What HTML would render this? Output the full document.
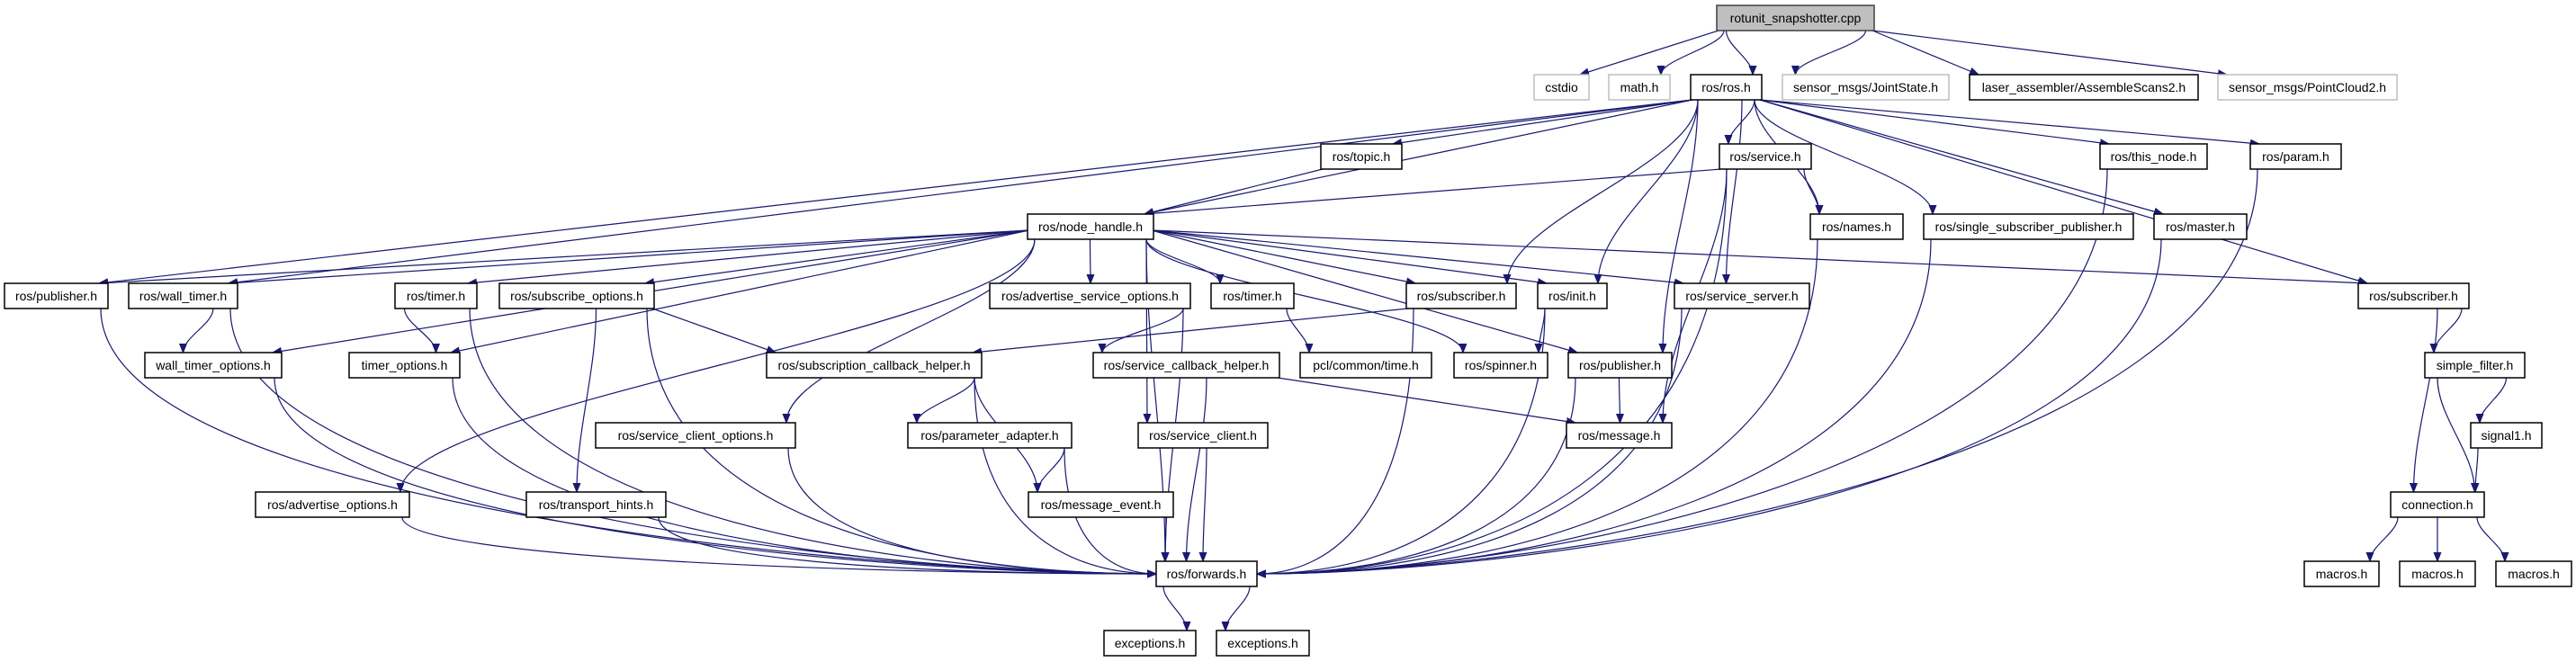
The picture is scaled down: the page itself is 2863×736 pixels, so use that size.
<!DOCTYPE html>
<html><head><meta charset="utf-8"><style>
html,body{margin:0;padding:0;background:#fff;}
svg{display:block;}
text{font-family:"Liberation Sans","DejaVu Sans",sans-serif;font-size:14px;fill:#000;}
</style></head><body>
<svg id="g" width="2863" height="736" viewBox="0 0 2863 736" xmlns="http://www.w3.org/2000/svg">
<defs><marker id="a" viewBox="0 0 10 10" refX="10" refY="5" markerWidth="10" markerHeight="10" markerUnits="userSpaceOnUse" orient="auto"><path d="M0,1 L10,5 L0,9 z" fill="#191970" stroke="#191970"/></marker></defs>
<g id="edges" fill="none" stroke="#191970" stroke-width="1.2"></g>
<g id="nodes">
<rect x="1908" y="6" width="175" height="28" fill="#bfbfbf" stroke="#404040" stroke-width="1.5"/><text x="1995.5" y="25" text-anchor="middle">rotunit_snapshotter.cpp</text>
<rect x="1705" y="83" width="61" height="28" fill="#fff" stroke="#bfbfbf" stroke-width="1.5"/><text x="1735.5" y="102" text-anchor="middle">cstdio</text>
<rect x="1788" y="83" width="68" height="28" fill="#fff" stroke="#bfbfbf" stroke-width="1.5"/><text x="1822" y="102" text-anchor="middle">math.h</text>
<rect x="1879" y="83" width="79" height="28" fill="#fff" stroke="#000" stroke-width="1.5"/><text x="1918.5" y="102" text-anchor="middle">ros/ros.h</text>
<rect x="1981" y="83" width="185" height="28" fill="#fff" stroke="#bfbfbf" stroke-width="1.5"/><text x="2073.5" y="102" text-anchor="middle">sensor_msgs/JointState.h</text>
<rect x="2189" y="83" width="254" height="28" fill="#fff" stroke="#000" stroke-width="1.5"/><text x="2316" y="102" text-anchor="middle">laser_assembler/AssembleScans2.h</text>
<rect x="2465" y="83" width="199" height="28" fill="#fff" stroke="#bfbfbf" stroke-width="1.5"/><text x="2564.5" y="102" text-anchor="middle">sensor_msgs/PointCloud2.h</text>
<rect x="1468" y="160" width="90" height="28" fill="#fff" stroke="#000" stroke-width="1.5"/><text x="1513" y="179" text-anchor="middle">ros/topic.h</text>
<rect x="1911" y="160" width="102" height="28" fill="#fff" stroke="#000" stroke-width="1.5"/><text x="1962" y="179" text-anchor="middle">ros/service.h</text>
<rect x="2334" y="160" width="119" height="28" fill="#fff" stroke="#000" stroke-width="1.5"/><text x="2393.5" y="179" text-anchor="middle">ros/this_node.h</text>
<rect x="2501" y="160" width="101" height="28" fill="#fff" stroke="#000" stroke-width="1.5"/><text x="2551.5" y="179" text-anchor="middle">ros/param.h</text>
<rect x="1142" y="238" width="140" height="28" fill="#fff" stroke="#000" stroke-width="1.5"/><text x="1212" y="257" text-anchor="middle">ros/node_handle.h</text>
<rect x="2012" y="238" width="103" height="28" fill="#fff" stroke="#000" stroke-width="1.5"/><text x="2063.5" y="257" text-anchor="middle">ros/names.h</text>
<rect x="2138" y="238" width="233" height="28" fill="#fff" stroke="#000" stroke-width="1.5"/><text x="2254.5" y="257" text-anchor="middle">ros/single_subscriber_publisher.h</text>
<rect x="2394" y="238" width="103" height="28" fill="#fff" stroke="#000" stroke-width="1.5"/><text x="2445.5" y="257" text-anchor="middle">ros/master.h</text>
<rect x="5" y="315" width="115" height="28" fill="#fff" stroke="#000" stroke-width="1.5"/><text x="62.5" y="334" text-anchor="middle">ros/publisher.h</text>
<rect x="143" y="315" width="121" height="28" fill="#fff" stroke="#000" stroke-width="1.5"/><text x="203.5" y="334" text-anchor="middle">ros/wall_timer.h</text>
<rect x="439" y="315" width="91" height="28" fill="#fff" stroke="#000" stroke-width="1.5"/><text x="484.5" y="334" text-anchor="middle">ros/timer.h</text>
<rect x="555" y="315" width="172" height="28" fill="#fff" stroke="#000" stroke-width="1.5"/><text x="641" y="334" text-anchor="middle">ros/subscribe_options.h</text>
<rect x="1100" y="315" width="223" height="28" fill="#fff" stroke="#000" stroke-width="1.5"/><text x="1211.5" y="334" text-anchor="middle">ros/advertise_service_options.h</text>
<rect x="1346" y="315" width="92" height="28" fill="#fff" stroke="#000" stroke-width="1.5"/><text x="1392" y="334" text-anchor="middle">ros/timer.h</text>
<rect x="1563" y="315" width="122" height="28" fill="#fff" stroke="#000" stroke-width="1.5"/><text x="1624" y="334" text-anchor="middle">ros/subscriber.h</text>
<rect x="1709" y="315" width="77" height="28" fill="#fff" stroke="#000" stroke-width="1.5"/><text x="1747.5" y="334" text-anchor="middle">ros/init.h</text>
<rect x="1861" y="315" width="150" height="28" fill="#fff" stroke="#000" stroke-width="1.5"/><text x="1936" y="334" text-anchor="middle">ros/service_server.h</text>
<rect x="2621" y="315" width="123" height="28" fill="#fff" stroke="#000" stroke-width="1.5"/><text x="2682.5" y="334" text-anchor="middle">ros/subscriber.h</text>
<rect x="161" y="392" width="152" height="28" fill="#fff" stroke="#000" stroke-width="1.5"/><text x="237" y="411" text-anchor="middle">wall_timer_options.h</text>
<rect x="388" y="392" width="123" height="28" fill="#fff" stroke="#000" stroke-width="1.5"/><text x="449.5" y="411" text-anchor="middle">timer_options.h</text>
<rect x="852" y="392" width="239" height="28" fill="#fff" stroke="#000" stroke-width="1.5"/><text x="971.5" y="411" text-anchor="middle">ros/subscription_callback_helper.h</text>
<rect x="1215" y="392" width="207" height="28" fill="#fff" stroke="#000" stroke-width="1.5"/><text x="1318.5" y="411" text-anchor="middle">ros/service_callback_helper.h</text>
<rect x="1445" y="392" width="146" height="28" fill="#fff" stroke="#000" stroke-width="1.5"/><text x="1518" y="411" text-anchor="middle">pcl/common/time.h</text>
<rect x="1616" y="392" width="104" height="28" fill="#fff" stroke="#000" stroke-width="1.5"/><text x="1668" y="411" text-anchor="middle">ros/spinner.h</text>
<rect x="1743" y="392" width="115" height="28" fill="#fff" stroke="#000" stroke-width="1.5"/><text x="1800.5" y="411" text-anchor="middle">ros/publisher.h</text>
<rect x="2695" y="392" width="111" height="28" fill="#fff" stroke="#000" stroke-width="1.5"/><text x="2750.5" y="411" text-anchor="middle">simple_filter.h</text>
<rect x="662" y="470" width="222" height="28" fill="#fff" stroke="#000" stroke-width="1.5"/><text x="773" y="489" text-anchor="middle">ros/service_client_options.h</text>
<rect x="1009" y="470" width="182" height="28" fill="#fff" stroke="#000" stroke-width="1.5"/><text x="1100" y="489" text-anchor="middle">ros/parameter_adapter.h</text>
<rect x="1265" y="470" width="144" height="28" fill="#fff" stroke="#000" stroke-width="1.5"/><text x="1337" y="489" text-anchor="middle">ros/service_client.h</text>
<rect x="1741" y="470" width="117" height="28" fill="#fff" stroke="#000" stroke-width="1.5"/><text x="1799.5" y="489" text-anchor="middle">ros/message.h</text>
<rect x="2746" y="470" width="79" height="28" fill="#fff" stroke="#000" stroke-width="1.5"/><text x="2785.5" y="489" text-anchor="middle">signal1.h</text>
<rect x="284" y="547" width="171" height="28" fill="#fff" stroke="#000" stroke-width="1.5"/><text x="369.5" y="566" text-anchor="middle">ros/advertise_options.h</text>
<rect x="585" y="547" width="155" height="28" fill="#fff" stroke="#000" stroke-width="1.5"/><text x="662.5" y="566" text-anchor="middle">ros/transport_hints.h</text>
<rect x="1143" y="547" width="161" height="28" fill="#fff" stroke="#000" stroke-width="1.5"/><text x="1223.5" y="566" text-anchor="middle">ros/message_event.h</text>
<rect x="2657" y="547" width="104" height="28" fill="#fff" stroke="#000" stroke-width="1.5"/><text x="2709" y="566" text-anchor="middle">connection.h</text>
<rect x="1285" y="624" width="112" height="28" fill="#fff" stroke="#000" stroke-width="1.5"/><text x="1341" y="643" text-anchor="middle">ros/forwards.h</text>
<rect x="2561" y="624" width="83" height="28" fill="#fff" stroke="#000" stroke-width="1.5"/><text x="2602.5" y="643" text-anchor="middle">macros.h</text>
<rect x="2667" y="624" width="84" height="28" fill="#fff" stroke="#000" stroke-width="1.5"/><text x="2709" y="643" text-anchor="middle">macros.h</text>
<rect x="2774" y="624" width="84" height="28" fill="#fff" stroke="#000" stroke-width="1.5"/><text x="2816" y="643" text-anchor="middle">macros.h</text>
<rect x="1227" y="701" width="102" height="28" fill="#fff" stroke="#000" stroke-width="1.5"/><text x="1278" y="720" text-anchor="middle">exceptions.h</text>
<rect x="1352" y="701" width="103" height="28" fill="#fff" stroke="#000" stroke-width="1.5"/><text x="1403.5" y="720" text-anchor="middle">exceptions.h</text>
</g>
</svg>
<script>
var R=[6,83,160,238,315,392,470,547,624,701];
var N={root:[1908,2083,0],cstdio:[1705,1766,1],math:[1788,1856,1],ros:[1879,1958,1],joint:[1981,2166,1],assem:[2189,2443,1],pc2:[2465,2664,1],
topic:[1468,1558,2],service:[1911,2013,2],thisnode:[2334,2453,2],param:[2501,2602,2],nh:[1142,1282,3],names:[2012,2115,3],ssp:[2138,2371,3],master:[2394,2497,3],
pubL:[5,120,4],wt:[143,264,4],timerL:[439,530,4],subopt:[555,727,4],aso:[1100,1323,4],timerM:[1346,1438,4],subM:[1563,1685,4],init:[1709,1786,4],ss:[1861,2011,4],subR:[2621,2744,4],
wto:[161,313,5],to:[388,511,5],sch:[852,1091,5],sch2:[1215,1422,5],pcl:[1445,1591,5],spin:[1616,1720,5],pubM:[1743,1858,5],sf:[2695,2806,5],
sco:[662,884,6],pa:[1009,1191,6],sc:[1265,1409,6],msg:[1741,1858,6],sig:[2746,2825,6],ao:[284,455,7],th:[585,740,7],me:[1143,1304,7],conn:[2657,2761,7],
fw:[1285,1397,8],m1:[2561,2644,8],m2:[2667,2751,8],m3:[2774,2858,8],ex1:[1227,1329,9],ex2:[1352,1455,9]};
var E="root cstdio,root math,root ros,root joint,root assem,root pc2,ros pubL,ros wt,ros nh,ros topic,ros service,ros subM,ros init,ros pubM,ros ss,ros names,ros ssp,ros master,ros thisnode,ros param,ros subR,topic nh,service nh,service names,service msg,service fw,nh pubL,nh wt,nh wto,nh to,nh timerL,nh subopt,nh ao,nh sco,nh fw,nh aso,nh timerM,nh sc,nh subM,nh init,nh spin,nh pubM,nh ss,nh subR,wt wto,wt fw,timerL to,timerL fw,subopt sch,subopt th,subopt fw,aso sch2,aso fw,timerM pcl,subM sch,subM fw,init spin,init fw,pubM msg,pubM fw,ss fw,names fw,ssp fw,master fw,thisnode fw,param fw,subR sf,subR conn,sf sig,sf conn,sig conn,conn m1,conn m2,conn m3,sch pa,sch me,sch fw,sch2 msg,sch2 fw,pa me,pa fw,me fw,sc fw,sco fw,th fw,ao fw,wto fw,to fw,pubL fw,fw ex1,fw ex2".split(",");
var g=document.getElementById("edges"),s="";
function cl(v,a,b){return Math.max(a,Math.min(b,v));}
E.forEach(function(e){var p=e.split(" "),a=N[p[0]],b=N[p[1]];
var acx=(a[0]+a[1])/2,bcx=(b[0]+b[1])/2;
var sx=cl(bcx,a[0]+8,a[1]-8),sy=R[a[2]]+28;
var ex=cl(acx,b[0]+10,b[1]-10),ey=R[b[2]];
var dy=ey-sy,d;
var far=Math.abs(bcx-acx)>3*(dy+28);
if(p[1]=="fw"&&Math.abs(acx-bcx)>180){
  var left2=acx<bcx; ex=left2?1285:1397; ey=638;
  var k=left2?-1:1;
  d='M'+sx+','+sy+' C'+sx+','+(sy+(ey-sy)*0.75)+' '+(ex+k*Math.min(300,Math.abs(sx-ex)*0.5))+','+ey+' '+ex+','+ey;
}else if(far){
  var l=bcx<acx; sx=l?a[0]+2:a[1]-2; sy=R[a[2]]+(p[0]=="nh"?18:28);
  d='M'+sx+','+sy+' C'+(sx+(ex-sx)/3)+','+(sy+(ey-sy)/3)+' '+(sx+2*(ex-sx)/3)+','+(sy+2*(ey-sy)/3)+' '+ex+','+ey;
}else{
  d='M'+sx+','+sy+' C'+sx+','+(sy+dy*0.35)+' '+ex+','+(ey-dy*0.35)+' '+ex+','+ey;
}
s+='<path d="'+d+'" marker-end="url(#a)"/>';});
g.innerHTML=s;
</script>
</body></html>
